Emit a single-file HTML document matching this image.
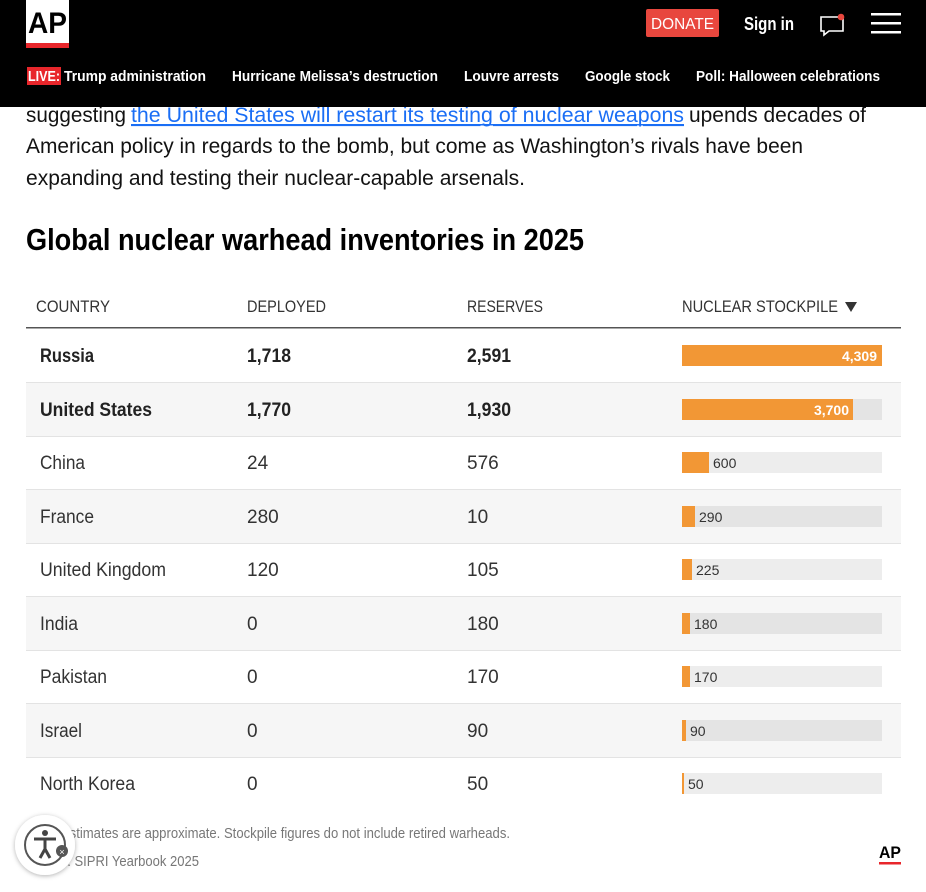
<!DOCTYPE html>
<html><head><meta charset="utf-8"><style>
html,body{margin:0;padding:0;background:#fff;width:926px;height:892px;overflow:hidden}
svg{display:block;font-family:"Liberation Sans",sans-serif}
</style></head><body>
<svg width="926" height="892" viewBox="0 0 926 892" xmlns="http://www.w3.org/2000/svg">
<defs><filter id="sh" x="-30%" y="-30%" width="160%" height="160%"><feDropShadow dx="0" dy="1" stdDeviation="2.5" flood-color="#000" flood-opacity="0.3"/></filter></defs>
<!-- body text (under nav) -->
<g font-size="21" fill="#121212">
<text x="26" y="122" textLength="100" lengthAdjust="spacingAndGlyphs">suggesting</text>
<text x="131" y="122" fill="#1a6ef5" textLength="553" lengthAdjust="spacingAndGlyphs" text-decoration="underline">the United States will restart its testing of nuclear weapons</text>
<rect x="131" y="124" width="553" height="1.5" fill="#1a6ef5"/>
<text x="689" y="122" textLength="177" lengthAdjust="spacingAndGlyphs">upends decades of</text>
<text x="26" y="153" textLength="777" lengthAdjust="spacingAndGlyphs">American policy in regards to the bomb, but come as Washington’s rivals have been</text>
<text x="26" y="185" textLength="499" lengthAdjust="spacingAndGlyphs">expanding and testing their nuclear-capable arsenals.</text>
</g>
<text x="26" y="250" font-size="31" font-weight="bold" fill="#000" textLength="558" lengthAdjust="spacingAndGlyphs">Global nuclear warhead inventories in 2025</text>
<!-- nav -->
<rect x="0" y="0" width="926" height="107" fill="#000"/>
<rect x="26" y="0" width="43" height="43" fill="#fff"/>
<rect x="26" y="43" width="43" height="5" fill="#e8262b"/>
<text x="28" y="33" font-size="30" font-weight="bold" fill="#000" textLength="39" lengthAdjust="spacingAndGlyphs">AP</text>
<rect x="646" y="9" width="73" height="28" rx="2" fill="#e8473e"/>
<text x="651" y="29" font-size="16" fill="#fff" textLength="63" lengthAdjust="spacingAndGlyphs">DONATE</text>
<text x="744" y="30" font-size="18" font-weight="bold" fill="#fff" textLength="50" lengthAdjust="spacingAndGlyphs">Sign in</text>
<path d="M821 17 h22 v14 h-14 l-5 4 v-4 h-3 z" fill="none" stroke="#fff" stroke-width="1.6"/>
<circle cx="841" cy="17" r="3.3" fill="#e8473e"/>
<rect x="871" y="13" width="30" height="2.5" fill="#fff"/>
<rect x="871" y="22" width="30" height="2.5" fill="#fff"/>
<rect x="871" y="31" width="30" height="2.5" fill="#fff"/>
<rect x="27" y="67" width="34" height="18" fill="#e8262b"/>
<g font-size="15" font-weight="bold" fill="#fff">
<text x="28" y="81" textLength="32" lengthAdjust="spacingAndGlyphs">LIVE:</text>
<text x="64" y="81" textLength="142" lengthAdjust="spacingAndGlyphs">Trump administration</text>
<text x="232" y="81" textLength="206" lengthAdjust="spacingAndGlyphs">Hurricane Melissa’s destruction</text>
<text x="464" y="81" textLength="95" lengthAdjust="spacingAndGlyphs">Louvre arrests</text>
<text x="585" y="81" textLength="85" lengthAdjust="spacingAndGlyphs">Google stock</text>
<text x="696" y="81" textLength="184" lengthAdjust="spacingAndGlyphs">Poll: Halloween celebrations</text>
</g>
<!-- table header -->
<g font-size="17" fill="#333">
<text x="36" y="312" textLength="74" lengthAdjust="spacingAndGlyphs">COUNTRY</text>
<text x="247" y="312" textLength="79" lengthAdjust="spacingAndGlyphs">DEPLOYED</text>
<text x="467" y="312" textLength="76" lengthAdjust="spacingAndGlyphs">RESERVES</text>
<text x="682" y="312" textLength="156" lengthAdjust="spacingAndGlyphs">NUCLEAR STOCKPILE</text>
<path d="M845 302 h12 l-6 10 z" fill="#333"/>
</g>
<!-- rows -->
<rect x="26" y="383" width="875" height="53" fill="#f6f6f6"/>
<rect x="26" y="490" width="875" height="53" fill="#f6f6f6"/>
<rect x="26" y="597" width="875" height="53" fill="#f6f6f6"/>
<rect x="26" y="704" width="875" height="53" fill="#f6f6f6"/>
<g fill="#e3e3e3">
<rect x="26" y="382" width="875" height="1"/><rect x="26" y="436" width="875" height="1"/>
<rect x="26" y="489" width="875" height="1"/><rect x="26" y="543" width="875" height="1"/>
<rect x="26" y="596" width="875" height="1"/><rect x="26" y="650" width="875" height="1"/>
<rect x="26" y="703" width="875" height="1"/><rect x="26" y="757" width="875" height="1"/>
</g>
<rect x="26" y="327" width="875" height="1.5" fill="#555"/>
<g font-size="19" fill="#222" font-weight="bold">
<text x="40" y="362" textLength="54" lengthAdjust="spacingAndGlyphs">Russia</text>
<text x="247" y="362" textLength="44" lengthAdjust="spacingAndGlyphs">1,718</text>
<text x="467" y="362" textLength="44" lengthAdjust="spacingAndGlyphs">2,591</text>
<text x="40" y="416" textLength="112" lengthAdjust="spacingAndGlyphs">United States</text>
<text x="247" y="416" textLength="44" lengthAdjust="spacingAndGlyphs">1,770</text>
<text x="467" y="416" textLength="44" lengthAdjust="spacingAndGlyphs">1,930</text>
</g>
<g font-size="19" fill="#333">
<text x="40" y="469" textLength="45" lengthAdjust="spacingAndGlyphs">China</text><text x="247" y="469">24</text><text x="467" y="469">576</text>
<text x="40" y="523" textLength="54" lengthAdjust="spacingAndGlyphs">France</text><text x="247" y="523">280</text><text x="467" y="523">10</text>
<text x="40" y="576" textLength="126" lengthAdjust="spacingAndGlyphs">United Kingdom</text><text x="247" y="576">120</text><text x="467" y="576">105</text>
<text x="40" y="630" textLength="38" lengthAdjust="spacingAndGlyphs">India</text><text x="247" y="630">0</text><text x="467" y="630">180</text>
<text x="40" y="683" textLength="67" lengthAdjust="spacingAndGlyphs">Pakistan</text><text x="247" y="683">0</text><text x="467" y="683">170</text>
<text x="40" y="737" textLength="42" lengthAdjust="spacingAndGlyphs">Israel</text><text x="247" y="737">0</text><text x="467" y="737">90</text>
<text x="40" y="790" textLength="95" lengthAdjust="spacingAndGlyphs">North Korea</text><text x="247" y="790">0</text><text x="467" y="790">50</text>
</g>
<!-- bars -->
<g>
<rect x="682" y="345" width="200" height="21" fill="#ededed"/><rect x="682" y="345" width="200" height="21" fill="#f29735"/>
<rect x="682" y="399" width="200" height="21" fill="#e4e4e4"/><rect x="682" y="399" width="171" height="21" fill="#f29735"/>
<rect x="682" y="452" width="200" height="21" fill="#ededed"/><rect x="682" y="452" width="27" height="21" fill="#f29735"/>
<rect x="682" y="506" width="200" height="21" fill="#e4e4e4"/><rect x="682" y="506" width="13" height="21" fill="#f29735"/>
<rect x="682" y="559" width="200" height="21" fill="#ededed"/><rect x="682" y="559" width="10" height="21" fill="#f29735"/>
<rect x="682" y="613" width="200" height="21" fill="#e4e4e4"/><rect x="682" y="613" width="8" height="21" fill="#f29735"/>
<rect x="682" y="666" width="200" height="21" fill="#ededed"/><rect x="682" y="666" width="8" height="21" fill="#f29735"/>
<rect x="682" y="720" width="200" height="21" fill="#e4e4e4"/><rect x="682" y="720" width="4" height="21" fill="#f29735"/>
<rect x="682" y="773" width="200" height="21" fill="#ededed"/><rect x="682" y="773" width="2" height="21" fill="#f29735"/>
</g>
<g font-size="14" font-weight="bold" fill="#fff">
<text x="877" y="361" text-anchor="end">4,309</text>
<text x="849" y="415" text-anchor="end">3,700</text>
</g>
<g font-size="14" fill="#333">
<text x="713" y="468">600</text><text x="699" y="522">290</text><text x="696" y="575">225</text>
<text x="694" y="629">180</text><text x="694" y="682">170</text><text x="690" y="736">90</text><text x="688" y="789">50</text>
</g>
<!-- footer -->
<g font-size="15" fill="#777">
<text x="26" y="838" textLength="484" lengthAdjust="spacingAndGlyphs">Note: Estimates are approximate. Stockpile figures do not include retired warheads.</text>
<text x="26" y="866" textLength="173" lengthAdjust="spacingAndGlyphs">Source: SIPRI Yearbook 2025</text>
</g>
<text x="879" y="858" font-size="17" font-weight="bold" fill="#000" textLength="22" lengthAdjust="spacingAndGlyphs">AP</text>
<rect x="879" y="862" width="22" height="2.5" fill="#e8262b"/>
<!-- accessibility -->
<circle cx="45" cy="845" r="30" fill="#fff" filter="url(#sh)"/>
<circle cx="45" cy="845" r="20" fill="none" stroke="#555" stroke-width="2"/>
<circle cx="45" cy="833" r="3" fill="#444"/>
<path d="M34 839 h22 M45 839 v10 M45 849 l-5 9 M45 849 l5 9" stroke="#444" stroke-width="3" fill="none"/>
<circle cx="62" cy="851" r="6" fill="#555"/>
<text x="62" y="855" font-size="9" fill="#fff" text-anchor="middle">×</text>
</svg>
</body></html>
